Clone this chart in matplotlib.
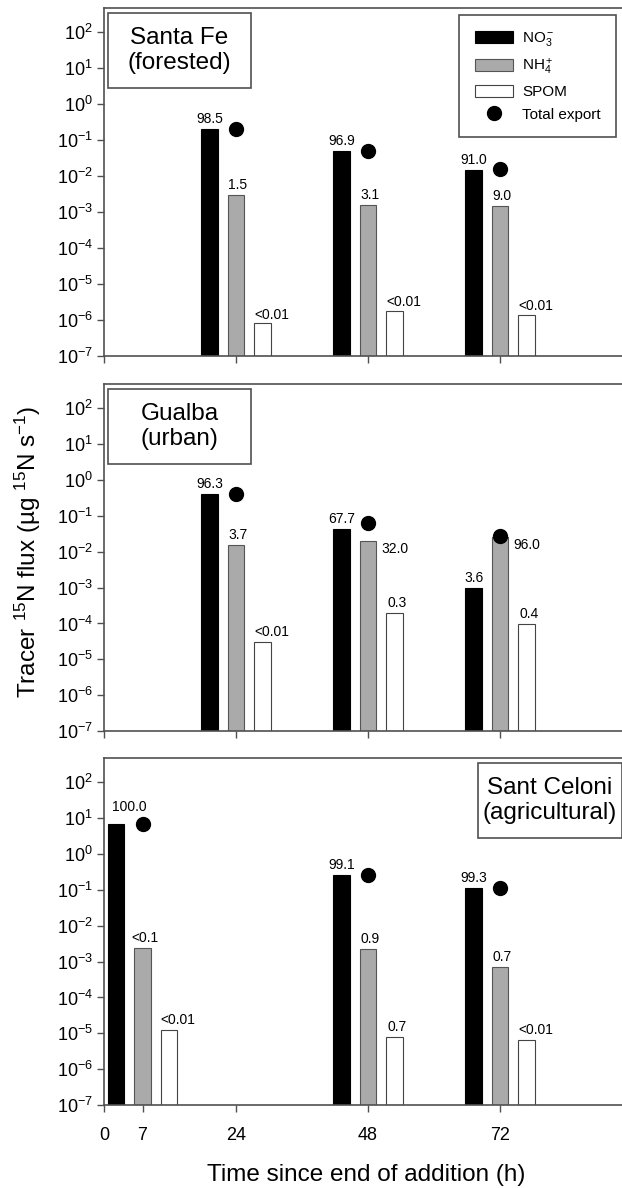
import matplotlib.pyplot as plt
import numpy as np
from matplotlib.patches import Rectangle, Patch
from matplotlib.lines import Line2D

plt.rcParams['font.family'] = ['Liberation Sans', 'DejaVu Sans']
plt.rcParams['mathtext.fontset'] = 'custom'
plt.rcParams['mathtext.rm'] = 'Liberation Sans'
plt.rcParams['mathtext.it'] = 'Liberation Sans:italic'
plt.rcParams['mathtext.bf'] = 'Liberation Sans:bold'
plt.rcParams['mathtext.default'] = 'regular'

# dane (ug 15N s-1)
sites = ['Santa Fe\n(forested)', 'Gualba\n(urban)', 'Sant Celoni\n(agricultural)']
times = [[24, 48, 72], [24, 48, 72], [7, 48, 72]]

no3 = [[0.20, 0.049, 0.0145],
       [0.41, 0.0436, 9.7e-4],
       [6.9, 0.26, 0.113]]
nh4 = [[3.1e-3, 1.58e-3, 1.45e-3],
       [0.0158, 0.0204, 0.025],
       [2.45e-3, 2.2e-3, 7.2e-4]]
spom = [[7.4e-7, 1.66e-6, 1.26e-6],
        [3.1e-5, 1.9e-4, 9.5e-5],
        [1.2e-5, 7.8e-6, 6.6e-6]]
total = [[0.20, 0.05, 0.0155],
         [0.42, 0.062, 0.0275],
         [6.9, 0.26, 0.11]]

no3_pct = [['98.5', '96.9', '91.0'], ['96.3', '67.7', '3.6'], ['100.0', '99.1', '99.3']]
nh4_pct = [['1.5', '3.1', '9.0'], ['3.7', '32.0', '96.0'], ['<0.1', '0.9', '0.7']]
spom_pct = [['<0.01', '<0.01', '<0.01'], ['<0.01', '0.3', '0.4'], ['<0.01', '0.7', '<0.01']]

fig = plt.figure(figsize=(6.22, 11.88), dpi=100)

W = 622.0
H = 1188.0
left = 104 / W
width = (625 - 104) / W
panel_tops = [8, 384, 758]
panel_bottoms = [356, 731, 1105]

off = 4.8
bw = 3.0
spine_col = '#505050'

axes = []
for p in range(3):
    ax = fig.add_axes([left, 1 - panel_bottoms[p] / H, width,
                       (panel_bottoms[p] - panel_tops[p]) / H])
    axes.append(ax)
    t = np.array(times[p], dtype=float)

    ax.bar(t - off, no3[p], bw, bottom=1e-7, color='black', edgecolor='black', lw=0.8, zorder=2)
    ax.bar(t, nh4[p], bw, bottom=1e-7, color='#aaaaaa', edgecolor='#555555', lw=0.8, zorder=2)
    ax.bar(t + off, spom[p], bw, bottom=1e-7, color='white', edgecolor='#444444', lw=0.8, zorder=2)
    ax.plot(t, total[p], 'o', color='black', ms=10, zorder=4, clip_on=False)

    for i in range(len(t)):
        # etykiety procentowe
        dx, dy = 0, 3
        if p == 2 and i == 0:
            dx, dy = 13, 10
        ax.annotate(no3_pct[p][i], (t[i] - off, no3[p][i]), xytext=(dx, dy),
                    textcoords='offset pixels', ha='center', va='bottom', fontsize=10)
        if p == 1 and i > 0:
            ax.annotate(nh4_pct[p][i], (t[i], nh4[p][i]), xytext=(27, -8),
                        textcoords='offset pixels', ha='center', va='center', fontsize=10)
        else:
            ax.annotate(nh4_pct[p][i], (t[i], nh4[p][i]), xytext=(2, 3),
                        textcoords='offset pixels', ha='center', va='bottom', fontsize=10)
        dx = 9 if spom_pct[p][i] == '<0.01' else 3
        ax.annotate(spom_pct[p][i], (t[i] + off, spom[p][i]), xytext=(dx, 3),
                    textcoords='offset pixels', ha='center', va='bottom', fontsize=10)

    ax.set_yscale('log')
    ax.set_ylim(1e-7, 10 ** 2.68)
    ax.set_xlim(0, (625 - 104) / 5.5)
    ax.set_yticks([10.0 ** k for k in range(-7, 3)])
    ax.set_yticklabels(['10$^{%d}$' % k for k in range(-7, 3)])
    ax.yaxis.set_minor_locator(plt.NullLocator())
    if p == 2:
        ax.set_xticks([0, 7, 24, 48, 72])
        ax.set_xticklabels(['0', '7', '24', '48', '72'])
    else:
        ax.set_xticks([0, 24, 48, 72])
        ax.set_xticklabels([])
    ax.tick_params(axis='both', direction='out', length=5, width=1, color=spine_col,
                   labelsize=13, pad=3)
    ax.tick_params(axis='x', pad=11)
    for s in ax.spines.values():
        s.set_color(spine_col)
        s.set_linewidth(1.2)

    # ramka z nazwa stanowiska
    if p < 2:
        bx0, bx1 = 0.008, 0.282
    else:
        bx0, bx1 = 0.718, 0.994
    ax.add_patch(Rectangle((bx0, 0.770), bx1 - bx0, 0.216, transform=ax.transAxes,
                           facecolor='white', edgecolor=spine_col, lw=1.2, zorder=5))
    ax.text((bx0 + bx1) / 2, 0.878, sites[p], transform=ax.transAxes, ha='center',
            va='center', fontsize=17.5, linespacing=1.15, zorder=6)

handles = [Patch(facecolor='black', edgecolor='black', lw=0.8),
           Patch(facecolor='#aaaaaa', edgecolor='#555555', lw=0.8),
           Patch(facecolor='white', edgecolor='#444444', lw=0.8),
           Line2D([], [], marker='o', color='black', ls='none', ms=10)]
labels = ['NO$_3^-$', 'NH$_4^+$', 'SPOM', 'Total export']
leg = axes[0].legend(handles, labels, loc='upper right',
                     bbox_to_anchor=((616 - 104) / 521, 1 - 7 / 348), borderaxespad=0,
                     fontsize=11, fancybox=False, edgecolor=spine_col, framealpha=1,
                     borderpad=1.0, labelspacing=0.55, handlelength=2.5, handleheight=0.8,
                     handletextpad=0.6)
leg.get_frame().set_linewidth(1.2)

fig.text(28 / W, 1 - 552 / H, 'Tracer $^{15}$N flux (\u00b5g $^{15}$N s$^{-1}$)',
         rotation=90, ha='center', va='center', fontsize=17.5)
fig.text(366 / W, 0.011, 'Time since end of addition (h)', ha='center', va='center',
         fontsize=17.5)

plt.savefig('out.png', dpi=100)
